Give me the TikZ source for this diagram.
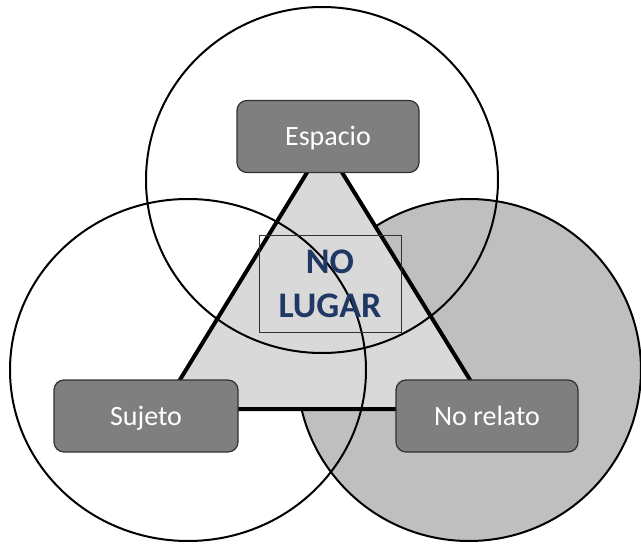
\documentclass[tikz,border=0pt]{standalone}
\usepackage{fontspec}
\setmainfont{Carlito}
\definecolor{boxgray}{RGB}{127,127,127}
\definecolor{boxline}{RGB}{50,50,50}
\definecolor{trifill}{RGB}{217,217,217}
\definecolor{circfill}{RGB}{191,191,191}
\definecolor{navy}{RGB}{31,56,100}
\begin{document}
\begin{tikzpicture}[x=1pt,y=-1pt,
  ring/.style={draw=black,line width=2pt},
  conceptbox/.style={draw=boxline,line width=1.2pt,fill=boxgray,rounded corners=10pt,
    minimum height=72pt,inner sep=0pt,text=white,font=\fontsize{28}{34}\selectfont,
    text height=18pt,text depth=0pt},
  centerbox/.style={draw=boxline,line width=0.8pt,minimum width=142pt,minimum height=97pt,
    inner sep=0pt,align=center,text=navy,font=\fontsize{36}{44}\selectfont\bfseries}]
\useasboundingbox (0,0) rectangle (641,544);
% right circle (filled, behind triangle)
\path[ring,fill=circfill] (469,370) ellipse [x radius=172pt,y radius=171pt];
% triangle
\coordinate (apex) at (324.5,144);
\coordinate (bl) at (162,409);
\coordinate (br) at (488,409);
\draw[line width=4pt,fill=trifill,line join=miter] (apex) -- (bl) -- (br) -- cycle;
% top and left circles (outlines)
\draw[ring] (322,180) ellipse [x radius=176pt,y radius=173pt];
\draw[ring] (188,370) ellipse [x radius=178pt,y radius=171pt];
% centre label
\node[centerbox] (nolugar) at (330,283.5) {NO\\LUGAR};
% concept boxes
\node[conceptbox,minimum width=182pt] (espacio) at (328,136.5) {Espacio};
\node[conceptbox,minimum width=184pt] (sujeto) at (146,416) {Sujeto};
\node[conceptbox,minimum width=182pt] (norelato) at (487,416) {No relato};
\end{tikzpicture}
\end{document}
